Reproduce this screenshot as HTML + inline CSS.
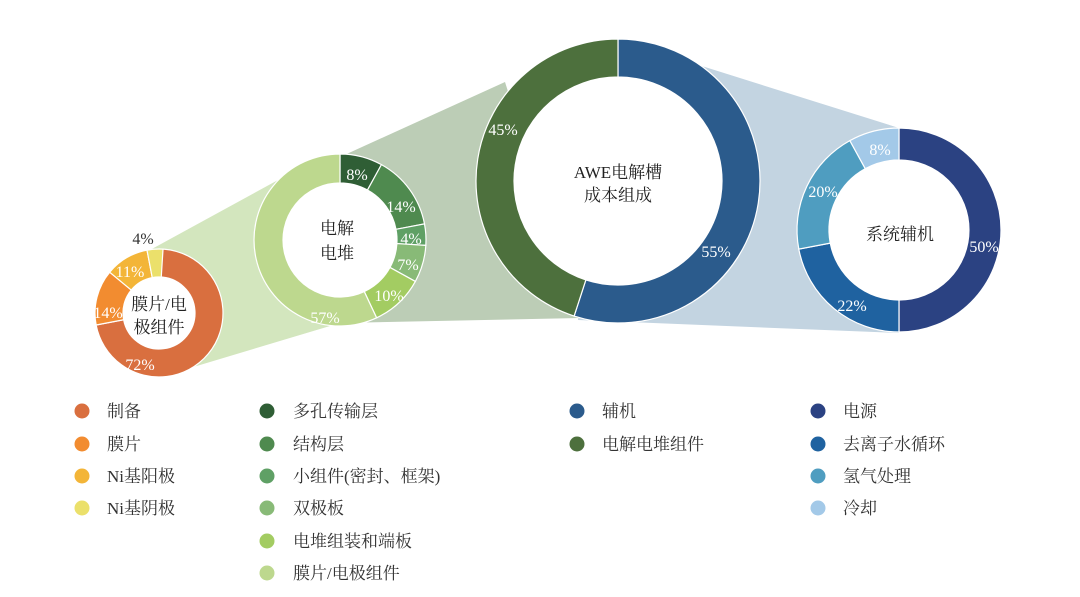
<!DOCTYPE html>
<html><head><meta charset="utf-8">
<style>
html,body{margin:0;padding:0;background:#fff;}
svg{display:block;}
text{font-family:"Liberation Serif","Noto Serif CJK SC",serif;}
.w{fill:#fff;font-size:16px;}
.l{fill:#333;font-size:17px;}
.c{fill:#222;font-size:17px;}
</style></head>
<body>
<svg id="s" width="1080" height="597" viewBox="0 0 1080 597" xmlns="http://www.w3.org/2000/svg">
<polygon points="150,250 300,168 340,323 190,368" fill="#D3E6BE"/>
<polygon points="340,157 505,82 580,318 340,323" fill="#BCCDB6"/>
<polygon points="619,40 899,128 899,333 578,320" fill="#C3D4E1"/>
<circle cx="159" cy="313" r="64" fill="#fff"/>
<circle cx="340" cy="240" r="86" fill="#fff"/>
<circle cx="618" cy="181" r="142" fill="#fff"/>
<circle cx="899" cy="230" r="102" fill="#fff"/>
<g id="d"></g>
<g id="t">
<text class="w" x="140" y="370" text-anchor="middle">72%</text>
<text class="w" x="108" y="318" text-anchor="middle">14%</text>
<text class="w" x="130" y="277" text-anchor="middle">11%</text>
<text x="143" y="244" text-anchor="middle" style="fill:#333;font-size:16px">4%</text>
<text class="c" x="159" y="310" text-anchor="middle">膜片/电</text>
<text class="c" x="159" y="333" text-anchor="middle">极组件</text>
<text class="w" x="357" y="180" text-anchor="middle">8%</text>
<text class="w" x="401" y="212" text-anchor="middle">14%</text>
<text class="w" x="411" y="244" text-anchor="middle">4%</text>
<text class="w" x="408" y="270" text-anchor="middle">7%</text>
<text class="w" x="389" y="301" text-anchor="middle">10%</text>
<text class="w" x="325" y="323" text-anchor="middle">57%</text>
<text class="c" x="337" y="234" text-anchor="middle">电解</text>
<text class="c" x="337" y="259" text-anchor="middle">电堆</text>
<text class="w" x="503" y="135" text-anchor="middle">45%</text>
<text class="w" x="716" y="257" text-anchor="middle">55%</text>
<text class="c" x="618" y="178" text-anchor="middle">AWE电解槽</text>
<text class="c" x="618" y="201" text-anchor="middle">成本组成</text>
<text class="w" x="880" y="155" text-anchor="middle">8%</text>
<text class="w" x="823" y="197" text-anchor="middle">20%</text>
<text class="w" x="852" y="311" text-anchor="middle">22%</text>
<text class="w" x="984" y="252" text-anchor="middle">50%</text>
<text class="c" x="900" y="240" text-anchor="middle">系统辅机</text>
</g>
<g id="lg"></g>
</svg>
<script>
function P(cx,cy,R,r,a0,a1){
 function pt(rad,a){var t=(a-90)*Math.PI/180;return (cx+rad*Math.cos(t)).toFixed(2)+","+(cy+rad*Math.sin(t)).toFixed(2);}
 var L=(a1-a0)>180?1:0;
 return "M"+pt(R,a0)+"A"+R+","+R+" 0 "+L+" 1 "+pt(R,a1)+"L"+pt(r,a1)+"A"+r+","+r+" 0 "+L+" 0 "+pt(r,a0)+"Z";
}
var donuts=[
 [159,313,64,36,[[72,"#D96F3F"],[14,"#F28C30"],[11,"#F3B538"],[4,"#EBE06B"]]],
 [340,240,86,57,[[8,"#2F5E35"],[14,"#4F8A4F"],[4,"#5FA065"],[7,"#88BA77"],[10,"#A3CC62"],[57,"#BDD88E"]]],
 [618,181,142,104,[[55,"#2B5B8C"],[45,"#4D703D"]]],
 [899,230,102,70,[[50,"#2B4282"],[22,"#1F62A0"],[20,"#4F9DC0"],[8,"#A3C9E8"]]]
];
var h="";
donuts.forEach(function(d){var a=0;d[4].forEach(function(s){var b=a+s[0]*3.6;h+='<path d="'+P(d[0],d[1],d[2],d[3],a,b)+'" fill="'+s[1]+'" stroke="#fff" stroke-width="1.2"/>';a=b;});});
document.getElementById("d").innerHTML=h;
var cols=[
 [82,107,[["#D96F3F","制备"],["#F28C30","膜片"],["#F3B538","Ni基阳极"],["#EBE06B","Ni基阴极"]]],
 [267,293,[["#2F5E35","多孔传输层"],["#4F8A4F","结构层"],["#5FA065","小组件(密封、框架)"],["#88BA77","双极板"],["#A3CC62","电堆组装和端板"],["#BDD88E","膜片/电极组件"]]],
 [577,602,[["#2B5B8C","辅机"],["#4D703D","电解电堆组件"]]],
 [818,843,[["#2B4282","电源"],["#1F62A0","去离子水循环"],["#4F9DC0","氢气处理"],["#A3C9E8","冷却"]]]
];
var ys=[411,444,476,508,541,573],g="";
cols.forEach(function(c){c[2].forEach(function(it,i){g+='<circle cx="'+c[0]+'" cy="'+ys[i]+'" r="7.5" fill="'+it[0]+'"/><text class="l" x="'+c[1]+'" y="'+(ys[i]+6)+'">'+it[1]+'</text>';});});
document.getElementById("lg").innerHTML=g;
</script>
</body></html>
